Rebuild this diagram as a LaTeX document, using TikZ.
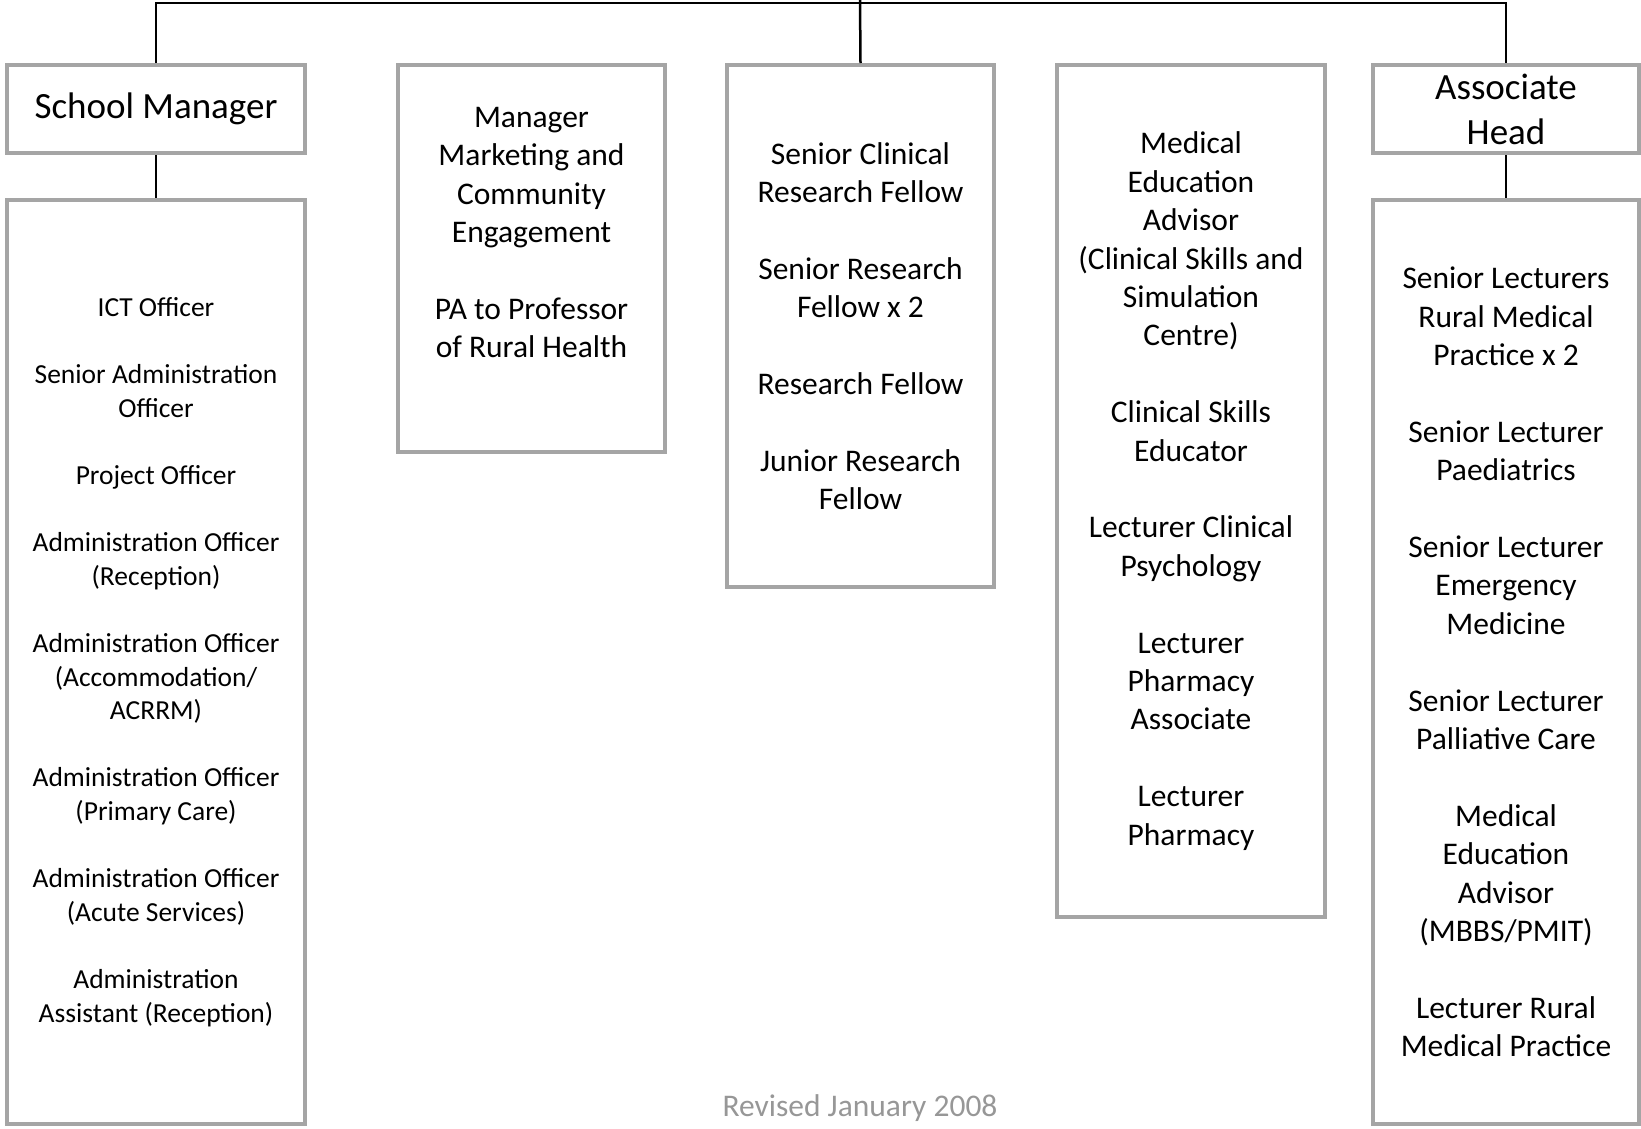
\documentclass[tikz,border=0pt]{standalone}
\usepackage{fontspec}
\setmainfont{Carlito}
\definecolor{boxgray}{HTML}{A5A5A5}
\definecolor{notegray}{HTML}{979797}

\begin{document}
\begin{tikzpicture}[x=1pt,y=-1pt,
  orgbox/.style={draw=boxgray,line width=4pt,inner sep=0pt,align=center,font=\fontsize{31.5}{38.4}\selectfont},
  headbox/.style={orgbox,font=\fontsize{37}{45}\selectfont},
  listbox/.style={orgbox,font=\fontsize{27.5}{33.6}\selectfont},
  link/.style={draw=black,line width=2.5pt}]
\useasboundingbox (0,0) rectangle (1641,1128);

\node[headbox,minimum width=298,minimum height=88] (sm) at (156,109) {School Manager};
\node[listbox,minimum width=298,minimum height=924] (admin) at (156,662) {ICT Officer\\ \\
  Senior Administration\\ Officer\\ \\
  Project Officer\\ \\
  Administration Officer\\ (Reception)\\ \\
  Administration Officer\\ (Accommodation/\\ ACRRM)\\ \\
  Administration Officer\\ (Primary Care)\\ \\
  Administration Officer\\ (Acute Services)\\ \\
  Administration\\ Assistant (Reception)};

\node[orgbox,minimum width=267,minimum height=387] (mkt) at (531.5,258.5) {};
\node[orgbox,draw=none,anchor=north] (mkttext) at (531.5,105) {Manager\\ Marketing and\\ Community\\ Engagement\\ \\
  PA to Professor\\ of Rural Health};

\node[orgbox,minimum width=267,minimum height=522] (res) at (860.5,326) {Senior Clinical\\ Research Fellow\\ \\
  Senior Research\\ Fellow x 2\\ \\
  Research Fellow\\ \\
  Junior Research\\ Fellow};

\node[orgbox,minimum width=268,minimum height=852] (edu) at (1191,491) {Medical\\ Education\\ Advisor\\ (Clinical Skills and\\ Simulation\\ Centre)\\ \\
  Clinical Skills\\ Educator\\ \\
  Lecturer Clinical\\ Psychology\\ \\
  Lecturer\\ Pharmacy\\ Associate\\ \\
  Lecturer\\ Pharmacy};

\node[headbox,minimum width=266,minimum height=88] (ah) at (1506,109) {Associate\\ Head};
\node[orgbox,minimum width=266,minimum height=924] (clin) at (1506,662) {Senior Lecturers\\ Rural Medical\\ Practice x 2\\ \\
  Senior Lecturer\\ Paediatrics\\ \\
  Senior Lecturer\\ Emergency\\ Medicine\\ \\
  Senior Lecturer\\ Palliative Care\\ \\
  Medical\\ Education\\ Advisor\\ (MBBS/PMIT)\\ \\
  Lecturer Rural\\ Medical Practice};

\node[font=\fontsize{31.5}{38.4}\selectfont,text=notegray] (note) at (860,1108) {Revised January 2008};

\coordinate (root) at (860,0);
\coordinate (bar) at (860,3);
\draw[link] (sm.north) |- (bar) -| (ah.north);
\draw[link] (root) -- (res.north);
\draw[link] (sm.south) -- (admin.north);
\draw[link] (ah.south) -- (clin.north);
\end{tikzpicture}
\end{document}
